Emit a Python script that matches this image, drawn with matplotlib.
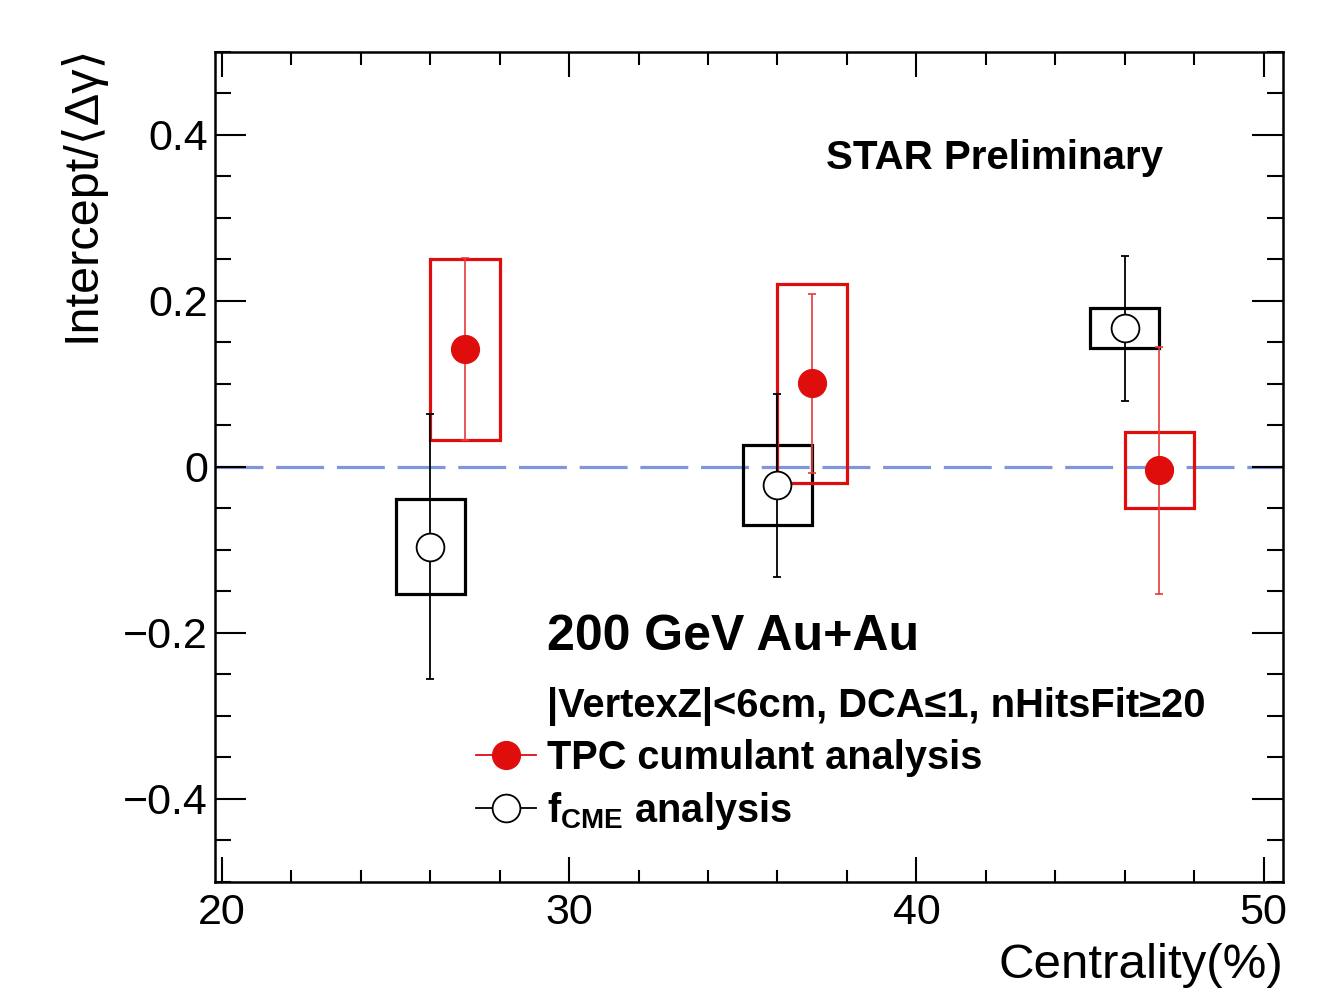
import matplotlib
matplotlib.use("Agg")
import matplotlib.pyplot as plt
from matplotlib.lines import Line2D
from matplotlib.patches import Rectangle
from matplotlib.ticker import MultipleLocator, FuncFormatter

plt.rcParams['font.family'] = ['Liberation Sans', 'DejaVu Sans']
plt.rcParams['mathtext.fontset'] = 'custom'
plt.rcParams['mathtext.rm'] = 'Liberation Sans'
plt.rcParams['mathtext.bf'] = 'Liberation Sans:bold'

# TPC cumulant analysis (red, filled)
tpc_cent = [27, 37, 47]
tpc_val = [0.142, 0.101, -0.004]
tpc_stat = [0.110, 0.108, 0.149]
tpc_sys = [0.109, 0.120, 0.046]

# f_CME analysis (black, open)
fcme_cent = [26, 36, 46]
fcme_val = [-0.096, -0.022, 0.167]
fcme_stat = [0.160, 0.110, 0.087]
fcme_sys = [0.057, 0.048, 0.024]

box_half = 1.0
red = '#e00d0d'
dash_col = '#8096dc'

fig = plt.figure(figsize=(13.31, 9.92), dpi=100)
ax = fig.add_axes([0.1615, 0.1109, 0.8025, 0.8367])
ax.set_xlim(19.80, 50.56)
ax.set_ylim(-0.5, 0.5)

ax.axhline(0, color=dash_col, lw=2.3, dashes=(15, 4), zorder=1)

# systematic boxes
for x, y, s in zip(fcme_cent, fcme_val, fcme_sys):
    ax.add_patch(Rectangle((x - box_half, y - s), 2 * box_half, 2 * s,
                           fill=False, ec='black', lw=2.3, zorder=3))
for x, y, s in zip(tpc_cent, tpc_val, tpc_sys):
    ax.add_patch(Rectangle((x - box_half, y - s), 2 * box_half, 2 * s,
                           fill=False, ec=red, lw=2.3, zorder=3))

# stat errors and points
ax.errorbar(fcme_cent, fcme_val, yerr=fcme_stat, fmt='o', color='black',
            mfc='white', mec='black', mew=1.3, ms=20, elinewidth=1.3,
            capsize=3, capthick=1.3, zorder=4)
ax.errorbar(tpc_cent, tpc_val, yerr=tpc_stat, fmt='o', color=red,
            ecolor='#e83a3a', ms=20, elinewidth=1.2, capsize=3,
            capthick=1.2, zorder=5)

# axes styling, ROOT-like
for sp in ax.spines.values():
    sp.set_linewidth(1.8)
ax.xaxis.set_major_locator(MultipleLocator(10))
ax.xaxis.set_minor_locator(MultipleLocator(2))
ax.yaxis.set_major_locator(MultipleLocator(0.2))
ax.yaxis.set_minor_locator(MultipleLocator(0.05))
ax.yaxis.set_major_formatter(FuncFormatter(
    lambda v, p: '0' if abs(v) < 1e-9 else f'{v:g}'.replace('-', '\u2212')))
ax.tick_params(which='both', direction='in', top=True, right=True, width=1.5)
ax.tick_params(axis='x', which='major', length=18, labelsize=31, pad=8)
ax.tick_params(axis='x', which='minor', length=9)
ax.tick_params(axis='y', which='major', length=22, labelsize=31, pad=5)
ax.tick_params(axis='y', which='minor', length=11.5)

ax.set_xlabel('Centrality(%)', fontsize=35.5, loc='right')
ax.xaxis.set_label_coords(1.0, -0.073)
ax.set_ylabel('Intercept/\u27e8\u0394\u03b3\u27e9', fontsize=35, loc='top')
ax.yaxis.set_label_coords(-0.103, 1.009)

ax.text(0.572, 0.859, 'STAR Preliminary', transform=ax.transAxes,
        fontsize=29, fontweight='bold', va='baseline')
ax.text(0.311, 0.2795, '200 GeV Au+Au', transform=ax.transAxes,
        fontsize=36, fontweight='bold', va='baseline')
ax.text(0.311, 0.199, '|VertexZ|<6cm, DCA\u22641, nHitsFit\u226520',
        transform=ax.transAxes, fontsize=28.7, fontweight='bold', va='baseline')

handles = [
    Line2D([], [], color=red, marker='o', ms=20, lw=1.3),
    Line2D([], [], color='black', marker='o', mfc='white', mew=1.3, ms=20, lw=1.3),
]
labels = ['TPC cumulant analysis', r'$\mathbf{f}_{\mathbf{CME}}$ analysis']
ax.legend(handles, labels, loc='upper left', bbox_to_anchor=(0.244, 0.172),
          frameon=False, prop=dict(size=28.6, weight='bold'),
          handlelength=1.51, handletextpad=0.3, labelspacing=0.33,
          borderpad=0, borderaxespad=0)

fig.savefig('out.png', dpi=100)
